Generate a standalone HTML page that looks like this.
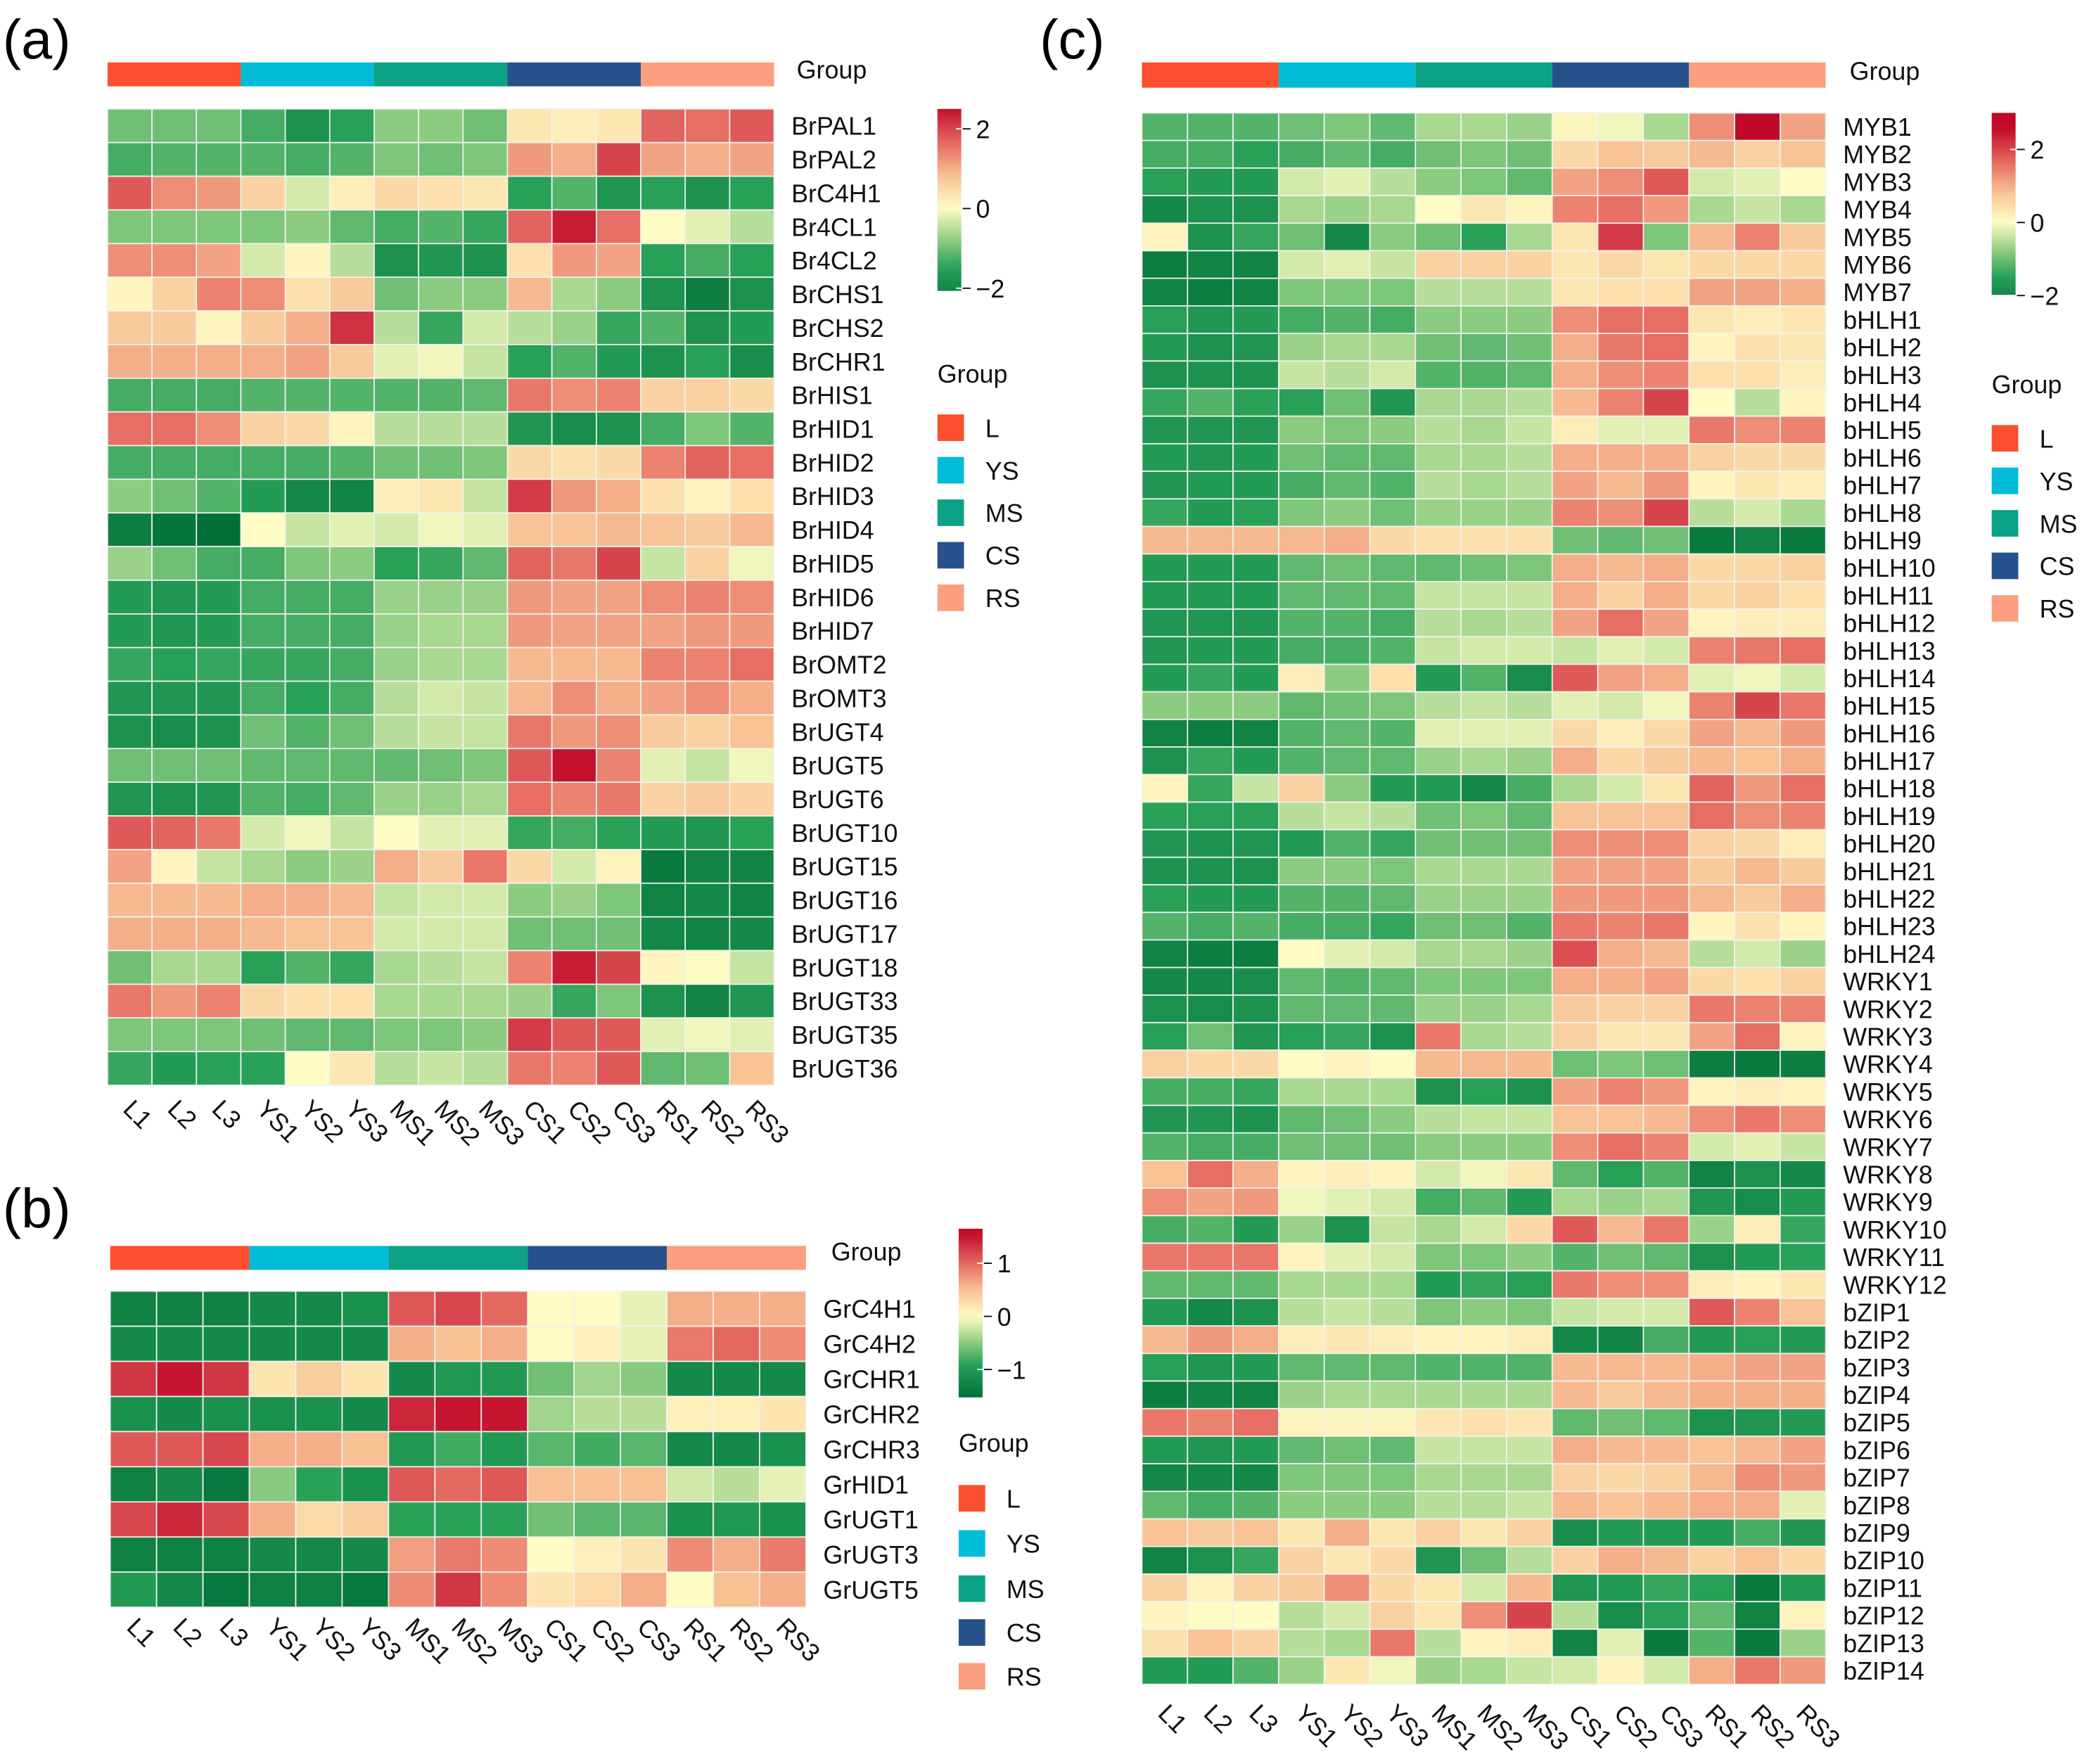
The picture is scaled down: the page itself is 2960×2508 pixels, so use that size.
<!DOCTYPE html>
<html><head><meta charset="utf-8"><style>
html,body{margin:0;padding:0;background:#fff;}
svg{display:block;font-family:"Liberation Sans",Arial,sans-serif;}
</style></head><body>
<svg id="fig" xmlns="http://www.w3.org/2000/svg" width="2960" height="2508" viewBox="0 0 1568 1328" preserveAspectRatio="none">
<rect x="0" y="0" width="1568" height="1328" fill="#fff"/>
<text x="2" y="44" font-size="42">(a)</text>
<text x="2" y="924" font-size="42">(b)</text>
<text x="783" y="44" font-size="42">(c)</text>
<defs>
<linearGradient id="cbA" x1="0" y1="0" x2="0" y2="1"></linearGradient>
<linearGradient id="cbB" x1="0" y1="0" x2="0" y2="1"></linearGradient>
<linearGradient id="cbC" x1="0" y1="0" x2="0" y2="1"></linearGradient>
</defs>
<g id="layer"></g>
</svg>
<script>
const colNames = ["L1","L2","L3","YS1","YS2","YS3","MS1","MS2","MS3","CS1","CS2","CS3","RS1","RS2","RS3"];
const groupNames = ["L","YS","MS","CS","RS"];
const groupColors = ["#fb4f2f","#00bcd8","#0ca285","#27518c","#fc9f80"];

const rowsA = ["BrPAL1","BrPAL2","BrC4H1","Br4CL1","Br4CL2","BrCHS1","BrCHS2","BrCHR1","BrHIS1","BrHID1","BrHID2","BrHID3","BrHID4","BrHID5","BrHID6","BrHID7","BrOMT2","BrOMT3","BrUGT4","BrUGT5","BrUGT6","BrUGT10","BrUGT15","BrUGT16","BrUGT17","BrUGT18","BrUGT33","BrUGT35","BrUGT36"];
const valuesA = [
[-1,-1,-1,-1.3,-1.8,-1.5,-0.8,-0.8,-1,0.3,0.2,0.3,1.7,1.6,1.8],
[-1.3,-1.2,-1.2,-1.2,-1.3,-1.2,-0.9,-1,-0.9,1.2,1,2,1.1,1,1.1],
[1.8,1.3,1.2,0.6,-0.3,0.2,0.5,0.4,0.3,-1.5,-1.2,-1.7,-1.5,-1.8,-1.5],
[-0.9,-0.9,-0.9,-0.9,-0.8,-1.1,-1.3,-1.2,-1.4,1.7,2.4,1.6,0,-0.2,-0.5],
[1.3,1.3,1.1,-0.3,0.1,-0.5,-1.8,-1.7,-1.8,0.4,1.2,1.1,-1.5,-1.3,-1.5],
[0.1,0.6,1.4,1.3,0.4,0.7,-1,-0.8,-0.8,0.9,-0.6,-0.8,-1.8,-2.2,-1.8],
[0.7,0.7,0.1,0.7,1,2.2,-0.5,-1.4,-0.3,-0.5,-0.7,-1.4,-1.2,-1.8,-1.6],
[1,1,1,1,1.1,0.7,-0.2,-0.1,-0.4,-1.5,-1.2,-1.6,-1.8,-1.5,-1.9],
[-1.3,-1.3,-1.3,-1.2,-1.2,-1.2,-1.2,-1.2,-1.1,1.5,1.3,1.4,0.6,0.6,0.5],
[1.6,1.6,1.3,0.6,0.5,0.1,-0.5,-0.5,-0.5,-1.7,-1.9,-1.8,-1.3,-0.9,-1.2],
[-1.3,-1.3,-1.3,-1.3,-1.3,-1.2,-1,-1,-0.9,0.5,0.4,0.5,1.4,1.7,1.6],
[-0.8,-1,-1.2,-1.6,-2,-2.1,0.2,0.3,-0.4,2.1,1.2,1,0.4,0.1,0.4],
[-2.2,-2.4,-2.5,0,-0.4,-0.2,-0.3,-0.1,-0.2,0.8,0.8,0.9,0.8,0.7,0.9],
[-0.7,-1,-1.3,-1.3,-0.9,-0.8,-1.5,-1.4,-1.1,1.7,1.5,2,-0.4,0.6,-0.1],
[-1.6,-1.7,-1.6,-1.3,-1.3,-1.3,-0.7,-0.7,-0.7,1.2,1.1,1.1,1.3,1.4,1.3],
[-1.6,-1.7,-1.6,-1.3,-1.3,-1.3,-0.7,-0.6,-0.6,1.2,1.1,1.1,1.1,1.2,1.2],
[-1.4,-1.5,-1.4,-1.4,-1.4,-1.3,-0.7,-0.6,-0.6,0.9,0.9,0.9,1.4,1.4,1.6],
[-1.7,-1.7,-1.7,-1.3,-1.5,-1.3,-0.5,-0.3,-0.4,0.9,1.3,1,1.1,1.3,1],
[-1.8,-1.9,-1.8,-1,-1.2,-1,-0.5,-0.4,-0.4,1.5,1.2,1.3,0.7,0.6,0.8],
[-1,-1,-1,-1.1,-1.1,-1.1,-1.1,-1,-0.9,1.8,2.5,1.4,-0.2,-0.4,-0.1],
[-1.7,-1.8,-1.7,-1.2,-1.3,-1.1,-0.7,-0.7,-0.6,1.6,1.4,1.5,0.6,0.7,0.6],
[1.8,1.7,1.5,-0.3,-0.1,-0.4,0,-0.2,-0.2,-1.4,-1.3,-1.5,-1.6,-1.7,-1.5],
[1.1,0.1,-0.4,-0.6,-0.8,-0.7,1,0.7,1.5,0.5,-0.3,0.1,-2.3,-2.1,-2.1],
[0.9,0.9,0.9,1,1,0.9,-0.4,-0.3,-0.3,-0.8,-0.7,-0.9,-2.1,-2,-2.1],
[1,1,1,0.9,0.8,0.8,-0.3,-0.3,-0.3,-1,-1,-1,-2,-2.1,-2],
[-1,-0.6,-0.6,-1.5,-1.2,-1.4,-0.6,-0.5,-0.4,1.4,2.4,2,0.1,0,-0.4],
[1.5,1.2,1.4,0.5,0.4,0.4,-0.6,-0.6,-0.6,-0.7,-1.4,-0.9,-1.8,-2.1,-1.7],
[-0.9,-0.9,-0.9,-1,-1.1,-1.1,-0.9,-0.9,-0.8,2.1,1.8,1.8,-0.2,-0.1,-0.2],
[-1.4,-1.6,-1.5,-1.5,0,0.3,-0.5,-0.4,-0.5,1.5,1.4,1.8,-1.1,-1,0.8]
];

const rowsB = ["GrC4H1","GrC4H2","GrCHR1","GrCHR2","GrCHR3","GrHID1","GrUGT1","GrUGT3","GrUGT5"];
const valuesB = [
[-1.3,-1.3,-1.3,-1.2,-1.2,-1.1,1.1,1.2,1,0,0,-0.1,0.6,0.6,0.6],
[-1.2,-1.2,-1.2,-1.2,-1.2,-1.2,0.6,0.5,0.6,0,0.1,-0.1,0.9,1,0.8],
[1.3,1.5,1.3,0.2,0.4,0.2,-1.2,-1,-1,-0.6,-0.4,-0.5,-1.2,-1.2,-1.2],
[-1.1,-1.2,-1.1,-1.1,-1.1,-1.2,1.4,1.5,1.5,-0.4,-0.3,-0.3,0.1,0.1,0.2],
[1.1,1.1,1.2,0.6,0.6,0.5,-1,-0.8,-1,-0.7,-0.8,-0.7,-1.2,-1.2,-1.1],
[-1.3,-1.2,-1.4,-0.5,-0.9,-1.1,1.1,1,1.1,0.5,0.5,0.5,-0.2,-0.3,-0.1],
[1.2,1.4,1.2,0.6,0.3,0.4,-0.9,-0.9,-0.9,-0.6,-0.7,-0.7,-1.1,-1,-1.1],
[-1.3,-1.3,-1.3,-1.2,-1.2,-1.2,0.7,0.9,0.8,0,0.1,0.2,0.8,0.6,0.9],
[-1,-1.2,-1.4,-1.3,-1.3,-1.4,0.8,1.3,0.8,0.2,0.3,0.6,0,0.5,0.6]
];

const rowsC = ["MYB1","MYB2","MYB3","MYB4","MYB5","MYB6","MYB7","bHLH1","bHLH2","bHLH3","bHLH4","bHLH5","bHLH6","bHLH7","bHLH8","bHLH9","bHLH10","bHLH11","bHLH12","bHLH13","bHLH14","bHLH15","bHLH16","bHLH17","bHLH18","bHLH19","bHLH20","bHLH21","bHLH22","bHLH23","bHLH24","WRKY1","WRKY2","WRKY3","WRKY4","WRKY5","WRKY6","WRKY7","WRKY8","WRKY9","WRKY10","WRKY11","WRKY12","bZIP1","bZIP2","bZIP3","bZIP4","bZIP5","bZIP6","bZIP7","bZIP8","bZIP9","bZIP10","bZIP11","bZIP12","bZIP13","bZIP14"];
const valuesC = [
[-1.2,-1.2,-1.2,-1,-0.9,-1.1,-0.6,-0.6,-0.7,0.1,-0.1,-0.6,1.3,2.7,1.1],
[-1.3,-1.3,-1.5,-1.3,-1.1,-1.3,-1,-0.9,-1,0.5,0.8,0.7,0.9,0.6,0.8],
[-1.5,-1.6,-1.6,-0.3,-0.2,-0.5,-0.8,-0.9,-1.1,1.1,1.3,1.8,-0.3,-0.2,0],
[-2,-1.8,-1.8,-0.6,-0.7,-0.6,0,0.3,0.1,1.4,1.6,1.2,-0.6,-0.4,-0.6],
[0.1,-1.8,-1.4,-1,-2,-0.8,-1,-1.5,-0.6,0.3,2.1,-0.9,0.9,1.4,0.7],
[-2.2,-2.1,-2.1,-0.3,-0.2,-0.4,0.6,0.6,0.6,0.3,0.5,0.3,0.5,0.5,0.5],
[-2.1,-2.2,-2.1,-0.9,-0.9,-0.9,-0.5,-0.5,-0.5,0.3,0.4,0.4,1.1,1.1,1],
[-1.5,-1.7,-1.6,-1.3,-1.2,-1.3,-0.8,-0.8,-0.8,1.3,1.6,1.6,0.3,0.2,0.3],
[-1.6,-1.8,-1.7,-0.7,-0.6,-0.6,-1,-1.1,-1,1,1.5,1.6,0.1,0.4,0.3],
[-1.8,-1.8,-1.8,-0.4,-0.5,-0.3,-1.2,-1.2,-1.1,1,1.3,1.4,0.4,0.4,0.2],
[-1.4,-1.2,-1.5,-1.5,-1,-1.7,-0.6,-0.6,-0.5,0.9,1.4,2,0,-0.5,0.1],
[-1.7,-1.7,-1.7,-0.8,-0.9,-0.8,-0.5,-0.6,-0.4,0.2,-0.2,-0.2,1.5,1.3,1.4],
[-1.6,-1.7,-1.6,-1,-1.1,-1.1,-0.6,-0.6,-0.5,1,1,1,0.6,0.5,0.5],
[-1.7,-1.6,-1.6,-1.3,-1.1,-1.2,-0.5,-0.6,-0.5,1.1,0.9,1.2,0.1,0.3,0.2],
[-1.4,-1.6,-1.5,-0.9,-0.8,-1,-0.7,-0.7,-0.7,1.4,1.3,2,-0.5,-0.3,-0.6],
[0.9,0.9,0.9,0.9,1,0.5,0.4,0.4,0.4,-1,-1.1,-1,-2.3,-2.1,-2.3],
[-1.6,-1.6,-1.6,-1.1,-1,-1.1,-1.1,-1,-0.9,1,0.9,1,0.5,0.5,0.6],
[-1.6,-1.6,-1.6,-1.1,-1.1,-1.1,-0.4,-0.4,-0.4,1,0.6,1,0.5,0.6,0.4],
[-1.7,-1.7,-1.7,-1.2,-1.2,-1.3,-0.5,-0.6,-0.5,1.1,1.6,1.1,0.1,0.2,0.2],
[-1.7,-1.6,-1.6,-1.3,-1.3,-1.2,-0.4,-0.3,-0.3,-0.4,-0.2,-0.3,1.4,1.5,1.6],
[-1.6,-1.4,-1.6,0.2,-0.8,0.4,-1.6,-1.2,-1.9,1.8,1.1,1,-0.2,-0.1,-0.3],
[-0.8,-0.8,-0.8,-1.1,-1,-0.9,-0.5,-0.4,-0.5,-0.2,-0.3,-0.1,1.4,2,1.5],
[-2.1,-2.2,-2.1,-1.2,-1.1,-1.2,-0.2,-0.2,-0.2,0.5,0.2,0.5,1.1,0.9,1.2],
[-1.8,-1.4,-1.6,-1.2,-1.1,-1.1,-0.7,-0.6,-0.7,1,0.5,0.7,0.9,0.8,1],
[0.1,-1.4,-0.4,0.6,-0.8,-1.6,-1.6,-2,-1.3,-0.6,-0.3,0.3,1.7,1.2,1.6],
[-1.5,-1.5,-1.5,-0.5,-0.4,-0.5,-1,-0.9,-1.1,0.8,0.8,0.8,1.6,1.3,1.4],
[-1.7,-1.8,-1.7,-1.6,-1.2,-1.4,-1,-1,-1,1.3,1.3,1.3,0.6,0.5,0.2],
[-1.8,-1.8,-1.8,-0.8,-0.8,-0.9,-0.6,-0.6,-0.6,1.1,1.1,1.1,0.7,0.9,0.7],
[-1.5,-1.6,-1.6,-1.2,-1.2,-1.1,-0.7,-0.7,-0.7,1.2,1.2,1.2,0.9,0.7,1],
[-1.2,-1.3,-1.2,-1.3,-1.3,-1.4,-1,-1,-1.2,1.5,1.4,1.5,0.1,0.4,0.1],
[-2.1,-2.2,-2.2,0,-0.2,-0.3,-0.6,-0.6,-0.7,1.9,1,0.9,-0.5,-0.3,-0.7],
[-2,-2,-1.9,-1.1,-1.2,-1.1,-0.9,-0.9,-0.9,1,1,1.1,0.5,0.4,0.6],
[-1.8,-1.9,-1.8,-1.1,-1.1,-1.1,-0.7,-0.7,-0.6,0.7,0.6,0.6,1.5,1.4,1.4],
[-1.5,-1,-1.7,-1.5,-1.4,-1.8,1.5,-0.6,-0.5,0.6,0.3,0.3,1.1,1.6,0.1],
[0.6,0.5,0.5,0,0.1,0,0.9,0.9,0.9,-1,-0.9,-1,-2.2,-2.3,-2.2],
[-1.3,-1.3,-1.4,-0.6,-0.6,-0.6,-1.8,-1.5,-1.8,1.1,1.4,1.2,0.1,0.2,0.1],
[-1.7,-1.7,-1.8,-1.1,-1,-0.8,-0.5,-0.4,-0.4,0.8,0.8,0.9,1.3,1.5,1.3],
[-1.2,-1.3,-1.3,-1,-1,-1,-0.8,-0.8,-0.8,1.3,1.6,1.4,-0.3,-0.2,-0.4],
[0.8,1.6,1,0.1,0.2,0.1,-0.3,-0.1,0.3,-1.1,-1.5,-1.2,-2.1,-1.8,-2],
[1.3,1.1,1.2,-0.1,-0.2,-0.3,-1.3,-1.1,-1.6,-0.6,-0.7,-0.6,-1.7,-1.9,-1.6],
[-1.3,-1.2,-1.6,-0.7,-1.8,-0.4,-0.6,-0.3,0.5,1.8,0.9,1.5,-0.7,0.2,-1.4],
[1.5,1.5,1.5,0.1,-0.2,-0.3,-0.9,-0.9,-0.8,-1.2,-1,-1.1,-1.8,-1.6,-1.5],
[-1.1,-1.1,-1.1,-0.6,-0.6,-0.6,-1.6,-1.4,-1.5,1.5,1.3,1.3,0.2,0.1,0.3],
[-1.6,-2,-1.8,-0.5,-0.4,-0.5,-0.9,-0.8,-0.9,-0.4,-0.3,-0.3,1.8,1.4,0.8],
[0.9,1.2,1,0.2,0.3,0.2,0.1,0.1,0.2,-2,-2.1,-1.3,-1.6,-1.5,-1.6],
[-1.5,-1.7,-1.6,-1.1,-1.1,-1.1,-1.2,-1.2,-1.2,0.9,0.9,0.9,1,1.1,1.1],
[-2.2,-2.1,-2.1,-0.7,-0.6,-0.6,-0.6,-0.6,-0.6,0.9,0.7,0.9,1,1,1],
[1.5,1.4,1.6,0.1,0.1,0.1,0.3,0.4,0.3,-1.1,-1,-1.1,-1.8,-1.7,-1.6],
[-1.6,-1.7,-1.6,-1.1,-1,-1.1,-0.4,-0.4,-0.4,1,0.9,0.9,0.8,0.9,1.1],
[-2,-2,-2,-0.9,-0.9,-0.9,-0.6,-0.6,-0.6,0.6,0.5,0.6,0.9,1.3,1.2],
[-1.1,-1.3,-1.2,-0.8,-0.8,-0.8,-0.5,-0.5,-0.4,0.9,0.8,0.9,1,1,-0.2],
[0.8,0.7,0.8,0.3,1,0.3,0.6,0.3,0.6,-1.9,-1.6,-1.6,-1.6,-1.3,-1.7],
[-2.1,-1.8,-1.4,0.6,0.3,0.5,-1.7,-1,-0.5,0.6,1,0.9,0.6,0.8,0.5],
[0.6,0.1,0.6,0.7,1.3,0.5,0.3,-0.3,0.9,-1.7,-1.6,-1.4,-1.5,-2.3,-1.6],
[0.1,0,0,-0.5,-0.3,0.6,0.3,1.3,2,-0.5,-1.9,-1.5,-1.1,-2.1,0.1],
[0.4,0.8,0.6,-0.5,-0.6,1.5,-0.5,0.1,0.2,-2.1,-0.2,-2.3,-1.2,-2.3,-0.7],
[-1.6,-1.6,-1.2,-0.7,0.3,-0.1,-0.7,-0.6,-0.4,-0.3,0.1,-0.3,1,1.5,1.2]
];

const ticksA = [2,0,-2];
const ticksB = [1,0,-1];
const ticksC = [2,0,-2];

const NS = "http://www.w3.org/2000/svg";
const layer = document.getElementById('layer');
const stops = [[-2.5,[0,112,56]],[-1.5,[40,160,88]],[-0.8,[140,204,128]],[0,[255,252,196]],[0.8,[248,196,150]],[1.5,[234,120,106]],[2.6,[192,8,40]]];
function colorOf(v){
  if(v<=stops[0][0]) return 'rgb('+stops[0][1].join(',')+')';
  for(let i=1;i<stops.length;i++){
    if(v<=stops[i][0]){
      const a=stops[i-1],b=stops[i],t=(v-a[0])/(b[0]-a[0]);
      const c=a[1].map((x,k)=>Math.round(x+(b[1][k]-x)*t));
      return 'rgb('+c.join(',')+')';
    }
  }
  return 'rgb('+stops[stops.length-1][1].join(',')+')';
}
function mk(tag,attrs,parent){
  const e=document.createElementNS(NS,tag);
  for(const k in attrs) e.setAttribute(k,attrs[k]);
  (parent||layer).appendChild(e);
  return e;
}
function txt(x,y,s,size,extra,parent){
  const e=mk('text',Object.assign({x:x,y:y,'font-size':size,fill:'#111'},extra||{}),parent);
  e.textContent=s; return e;
}

function heatmap(id,rows,vals,x0,x1,y0,y1,scale,gbY0,gbY1,groupLabelX,groupLabelY,colLabelY,fs){
  const g=mk('g',{});
  
  
  const nc=colNames.length, nr=rows.length;
  const cw=(x1-x0)/nc, rh=(y1-y0)/nr;
  const xPos=c=>x0+c*cw, yPos=r=>y0+r*rh;
  for(let k=0;k<groupNames.length;k++){
    const r=mk('rect',{x:xPos(k*3),y:gbY0,width:cw*3,height:gbY1-gbY0,fill:groupColors[k]},g);
    
    
  }
  const gl=txt(groupLabelX,groupLabelY,'Group',fs,{},g);
  
  
  for(let r=0;r<nr;r++){
    for(let c=0;c<nc;c++){
      const v=vals[r][c]*scale;
      const cell=mk('rect',{x:xPos(c),y:yPos(r),width:cw,height:rh,fill:colorOf(v),stroke:'#f2f2f2','stroke-width':0.9},g);
      
      
    }
    const t=txt(x1+13,yPos(r)+rh/2+fs*0.36,rows[r],fs,{},g);
    
    
  }
  for(let c=0;c<nc;c++){
    const cx=xPos(c)+cw/2-6;
    const t=txt(0,0,colNames[c],fs,{transform:'translate('+cx+','+colLabelY+') rotate(45)'},g);
    
    
  }
}

function colorbar(id,gradId,x,top,bottom,vmax,vmin,perUnit,scale,ticks,fs){
  const grad=document.getElementById(gradId);
  for(let i=0;i<=20;i++){
    const v=vmax-(vmax-vmin)*i/20;
    const s=document.createElementNS(NS,'stop');
    s.setAttribute('offset',(i/20));
    s.setAttribute('stop-color',colorOf(v*scale));
    grad.appendChild(s);
  }
  const r=mk('rect',{x:x,y:top,width:18,height:bottom-top,fill:'url(#'+gradId+')'});
  
  
  ticks.forEach(tv=>{
    const y=top+(vmax-tv)*perUnit;
    mk('line',{x1:x+14,x2:x+18,y1:y,y2:y,stroke:'#fff','stroke-width':1});
    mk('line',{x1:x+19,x2:x+25,y1:y,y2:y,stroke:'#111','stroke-width':1});
    const lab=txt(x+29,y+7,(tv<0?'\u2212':'')+Math.abs(tv),fs,{});
    
    
  });
}

function legend(id,x,titleY,itemYs,fs){
  const t=txt(x,titleY,'Group',fs,{});
  
  
  for(let k=0;k<groupNames.length;k++){
    const sq=mk('rect',{x:x,y:itemYs[k]-10,width:20,height:20,fill:groupColors[k]});
    
    
    const l=txt(x+36,itemYs[k]+7,groupNames[k],fs,{});
    
    
  }
}

heatmap('a',rowsA,valuesA,81,583,82,817,1,47,65,600,59,836,19);
heatmap('b',rowsB,valuesB,83,607,972,1210,1.65,938,956,626,949,1226,19);
heatmap('c',rowsC,valuesC,860,1375,85,1268,1,47,66,1393,60,1291,19);

colorbar('a','cbA',706,82,219,2.5,-2.07,30,1,ticksA,19);
colorbar('b','cbB',722,925,1052,1.65,-1.52,40,1.65,ticksB,19);
colorbar('c','cbC',1500,85,222,3,-2,27.5,1,ticksC,19);

legend('a',706,288,[322,354,386,418,450],19);
legend('b',722,1093,[1128,1162,1196,1229,1262],19);
legend('c',1500,296,[330,362,394,426,458],19);
</script>
</body></html>
